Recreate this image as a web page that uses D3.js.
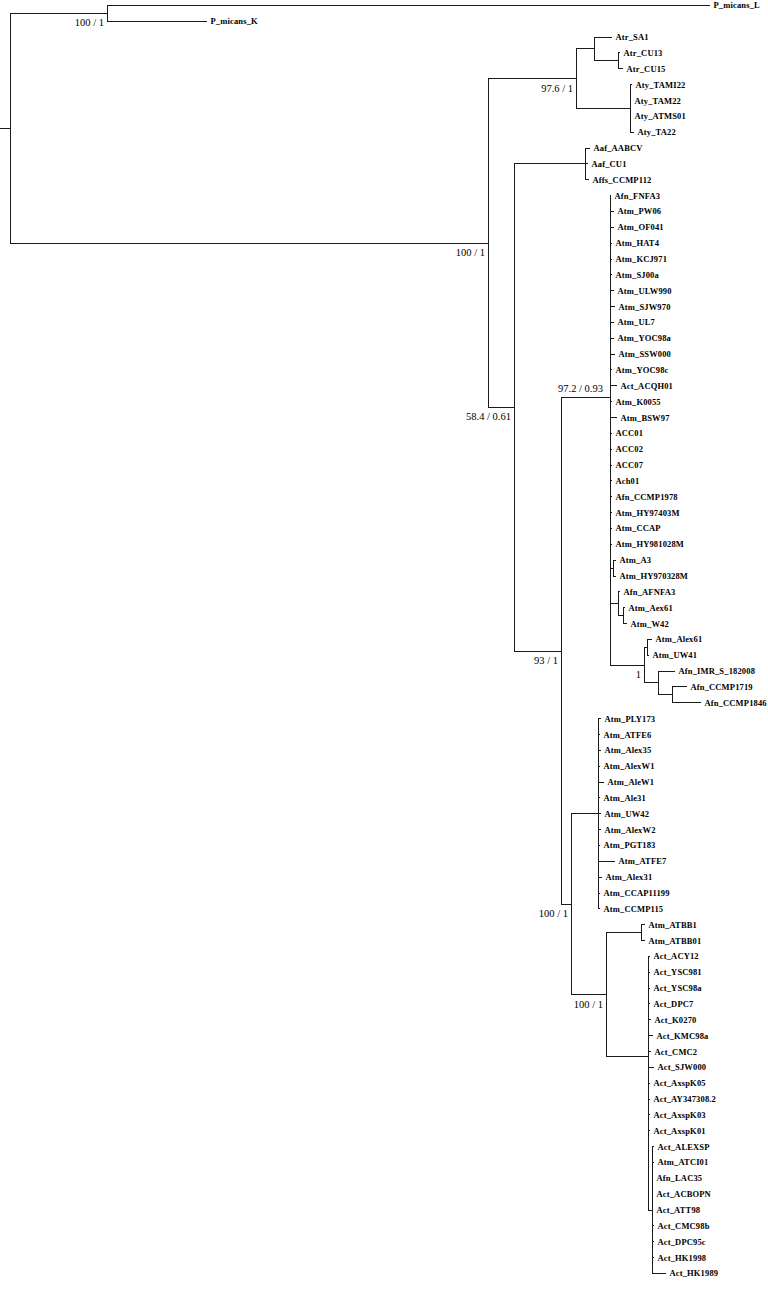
<!DOCTYPE html>
<html>
<head>
<meta charset="utf-8">
<script src="https://cdn.jsdelivr.net/npm/d3@7"></script>
<style>
body{margin:0;background:#fff;}
.link{stroke:#1a1a1a;stroke-width:1;fill:none;shape-rendering:crispEdges;}
.tip{font-family:"Liberation Serif","Times New Roman",serif;font-weight:bold;font-size:8.5px;letter-spacing:0.15px;fill:#000;}
.support{font-family:"Liberation Serif","Times New Roman",serif;font-size:10.5px;fill:#000;}
</style>
</head>
<body>
<svg id="chart" width="768" height="1300"></svg>
<script>
// tree edges as [child, parent, branch length]
// order of rows = order of children (top to bottom)
const outgroupEdges = [
	["A","root",0.097],
	["P_micans_L","A",0.603],
	["P_micans_K","A",0.100],
	["B","root",0.478]
];

const atrAtyEdges = [
	["C","B",0.088],
	["C1","C",0.018],
	["Atr_SA1","C1",0.018],
	["C1a","C1",0.024],
	["Atr_CU13","C1a",0.002],
	["Atr_CU15","C1a",0.005],
	["C2","C",0.054],
	["Aty_TAMI22","C2",0.002],
	["Aty_TAM22","C2",0.001],
	["Aty_ATMS01","C2",0.001],
	["Aty_TA22","C2",0.004]
];

const affineEdges = [
	["D","B",0.026],
	["E","D",0.071],
	["Aaf_AABCV","E",0.005],
	["Aaf_CU1","E",0.003],
	["Affs_CCMP112","E",0.004],
	["F","D",0.047]
];

const groupGEdges = [
	["G","F",0.049],
	["Afn_FNFA3","G",0.001],
	["Atm_PW06","G",0.004],
	["Atm_OF041","G",0.004],
	["Atm_HAT4","G",0.002],
	["Atm_KCJ971","G",0.002],
	["Atm_SJ00a","G",0.002],
	["Atm_ULW990","G",0.004],
	["Atm_SJW970","G",0.005],
	["Atm_UL7","G",0.004],
	["Atm_YOC98a","G",0.004],
	["Atm_SSW000","G",0.005],
	["Atm_YOC98c","G",0.002],
	["Act_ACQH01","G",0.007],
	["Atm_K0055","G",0.002],
	["Atm_BSW97","G",0.007],
	["ACC01","G",0.002],
	["ACC02","G",0.002],
	["ACC07","G",0.002],
	["Ach01","G",0.002],
	["Afn_CCMP1978","G",0.002],
	["Atm_HY97403M","G",0.002],
	["Atm_CCAP","G",0.002],
	["Atm_HY981028M","G",0.002],
	["G1","G",0.003],
	["Atm_A3","G1",0.003],
	["Atm_HY970328M","G1",0.003],
	["G2","G",0.008],
	["Afn_AFNFA3","G2",0.002],
	["G3","G2",0.005],
	["Atm_Aex61","G3",0.002],
	["Atm_W42","G3",0.004],
	["I","G",0.034],
	["I1","I",0.003],
	["Atm_Alex61","I1",0.005],
	["Atm_UW41","I1",0.002],
	["I2","I",0.014],
	["Afn_IMR_S_182008","I2",0.017],
	["I3","I2",0.014],
	["Afn_CCMP1719","I3",0.015],
	["Afn_CCMP1846","I3",0.029]
];

const groupJEdges = [
	["H","F",0.010],
	["J","H",0.027],
	["Atm_PLY173","J",0.003],
	["Atm_ATFE6","J",0.002],
	["Atm_Alex35","J",0.003],
	["Atm_AlexW1","J",0.002],
	["Atm_AleW1","J",0.006],
	["Atm_Ale31","J",0.002],
	["Atm_UW42","J",0.003],
	["Atm_AlexW2","J",0.003],
	["Atm_PGT183","J",0.002],
	["Atm_ATFE7","J",0.017],
	["Atm_Alex31","J",0.004],
	["Atm_CCAP11199","J",0.002],
	["Atm_CCMP115","J",0.002]
];

const catenellaEdges = [
	["K","H",0.035],
	["L","K",0.035],
	["Atm_ATBB1","L",0.004],
	["Atm_ATBB01","L",0.004],
	["M","K",0.042],
	["Act_ACY12","M",0.002],
	["Act_YSC981","M",0.002],
	["Act_YSC98a","M",0.002],
	["Act_DPC7","M",0.002],
	["Act_K0270","M",0.003],
	["Act_KMC98a","M",0.005],
	["Act_CMC2","M",0.003],
	["Act_SJW000","M",0.006],
	["Act_AxspK05","M",0.002],
	["Act_AY347308.2","M",0.002],
	["Act_AxspK03","M",0.002],
	["Act_AxspK01","M",0.002],
	["N","M",0.004],
	["Act_ALEXSP","N",0.002],
	["Atm_ATCI01","N",0.002],
	["Afn_LAC35","N",0.001],
	["Act_ACBOPN","N",0.001],
	["Act_ATT98","N",0.001],
	["Act_CMC98b","N",0.002],
	["Act_DPC95c","N",0.002],
	["Act_HK1998","N",0.002],
	["Act_HK1989","N",0.014]
];

// bootstrap / posterior support at internal nodes
const supports = [
	["A","100 / 1"],
	["B","100 / 1"],
	["C","97.6 / 1"],
	["D","58.4 / 0.61"],
	["F","93 / 1"],
	["G","97.2 / 0.93"],
	["I","1"],
	["H","100 / 1"],
	["K","100 / 1"]
];

const labelAbove = new Set(["G"]);

const svg = d3.select("#chart");
const rows = [["root", null, 0]]
	.concat(outgroupEdges, atrAtyEdges, affineEdges, groupGEdges, groupJEdges, catenellaEdges);

const root = d3.stratify()
	.id(d => d[0])
	.parentId(d => d[1])(rows);

// cumulative branch length
root.eachBefore(n => {
	n.dist = n.parent ? n.parent.dist + n.data[2] : 0;
});

const leaves = root.leaves();
const maxDist = d3.max(leaves, d => d.dist);

const x = d3.scaleLinear().domain([0, maxDist]).range([10, 710]);
const y = d3.scaleLinear().domain([0, leaves.length - 1]).range([5.4, 1273.4]);

leaves.forEach((l, i) => { l.yPos = y(i); });
// internal nodes sit at the mean of their children
root.eachAfter(n => {
	if (n.children) n.yPos = d3.mean(n.children, c => c.yPos);
	n.xPos = x(n.dist);
});

const g = svg.append("g");

// horizontal branches
g.selectAll("line.h")
	.data(root.descendants().filter(d => d.parent))
	.enter().append("line")
	.attr("class", "link")
	.attr("x1", d => d.parent.xPos)
	.attr("x2", d => d.xPos)
	.attr("y1", d => d.yPos)
	.attr("y2", d => d.yPos);

// vertical connectors
g.selectAll("line.v")
	.data(root.descendants().filter(d => d.children))
	.enter().append("line")
	.attr("class", "link")
	.attr("x1", d => d.xPos)
	.attr("x2", d => d.xPos)
	.attr("y1", d => d.children[0].yPos)
	.attr("y2", d => d.children[d.children.length - 1].yPos);

// root stub
g.append("line")
	.attr("class", "link")
	.attr("x1", 0).attr("x2", root.xPos)
	.attr("y1", root.yPos).attr("y2", root.yPos);

// tip labels
g.selectAll("text.tip")
	.data(leaves)
	.enter().append("text")
	.attr("class", "tip")
	.attr("x", d => d.xPos + 3.5)
	.attr("y", d => d.yPos + 3)
	.text(d => d.id);

// support labels
const nodeById = new Map(root.descendants().map(d => [d.id, d]));
g.selectAll("text.support")
	.data(supports)
	.enter().append("text")
	.attr("class", "support")
	.attr("text-anchor", "end")
	.attr("x", d => {
		let n = nodeById.get(d[0]);
		return labelAbove.has(d[0]) ? n.xPos - 7 : n.xPos - 3;
	})
	.attr("y", d => {
		let n = nodeById.get(d[0]);
		return labelAbove.has(d[0]) ? n.yPos - 6 : n.yPos + 13;
	})
	.text(d => d[1]);
</script>
</body>
</html>
